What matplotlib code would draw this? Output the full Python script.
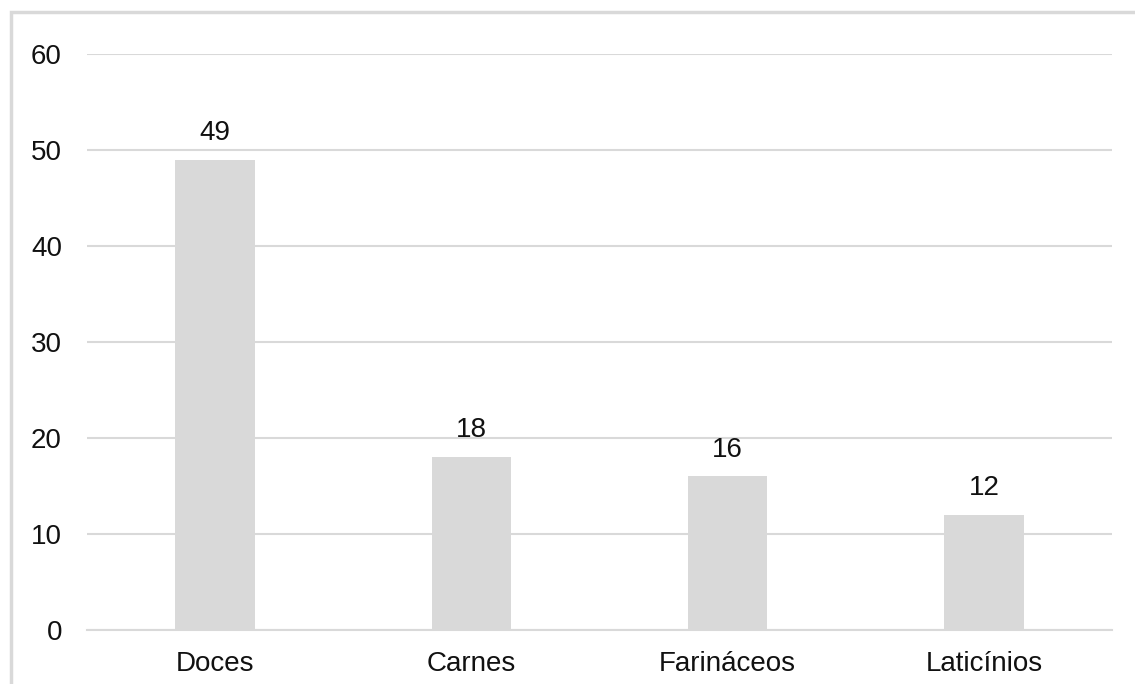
import matplotlib.pyplot as plt
import numpy as np
from matplotlib.patches import Rectangle

categorias = ['Doces', 'Carnes', 'Farináceos', 'Laticínios']
valores = [49, 18, 16, 12]
yticks = [0, 10, 20, 30, 40, 50, 60]

plt.rcParams['font.family'] = ['Liberation Sans', 'DejaVu Sans']

fig = plt.figure(figsize=(11.35, 6.84), dpi=100)
ax = fig.add_axes([87 / 1135, 1 - 630 / 684, 1025 / 1135, 576 / 684])

# moldura cinza da area do grafico
fig.patches.append(Rectangle((10.5 / 1135, -0.1), 1.2, 1 - 12 / 684 + 0.1,
                             transform=fig.transFigure, fill=False,
                             edgecolor='#d9d9d9', linewidth=2.5, zorder=0))

ind = np.arange(len(categorias))
barras = ax.bar(ind, valores, width=0.31, color='#d9d9d9', zorder=2)

for b, v in zip(barras, valores):
    ax.annotate(str(v), (b.get_x() + b.get_width() / 2, v),
                xytext=(0, 10), textcoords='offset points',
                ha='center', va='bottom', fontsize=20, color='#111111')

ax.set_xlim(-0.5, len(categorias) - 0.5)
ax.set_ylim(0, 60)
ax.set_yticks(yticks)
ax.set_xticks(ind, categorias)
ax.yaxis.grid(True, color='#d9d9d9', linewidth=1.5, zorder=0)
ax.tick_params(axis='both', length=0, labelsize=20, colors='#111111')
ax.tick_params(axis='y', pad=18)
ax.tick_params(axis='x', pad=15)
for s in ['top', 'right', 'left']:
    ax.spines[s].set_visible(False)
ax.spines['bottom'].set_color('#d9d9d9')
ax.spines['bottom'].set_linewidth(1.5)
ax.set_axisbelow(True)

fig.savefig('out.png', dpi=100)
